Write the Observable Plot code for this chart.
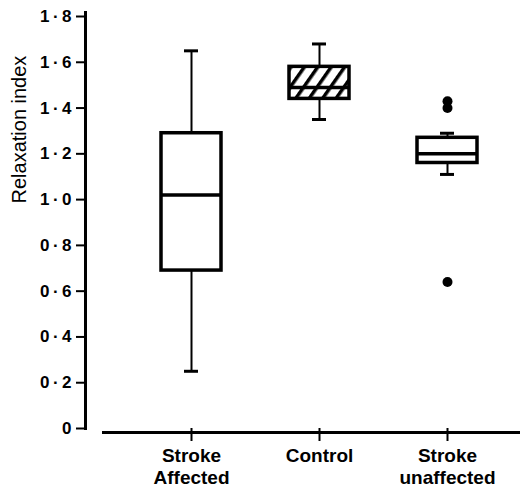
<!DOCTYPE html>
<html><head><meta charset="utf-8">
<script src="https://cdn.jsdelivr.net/npm/d3@7"></script>
<script src="https://cdn.jsdelivr.net/npm/@observablehq/plot@0.6"></script>
<style>
html,body{margin:0;padding:0;background:#fff;}
#chart svg{display:block;font-family:"Liberation Sans",Arial,sans-serif;}
</style>
</head><body><div id="chart"></div>
<script>
const groups = ["Stroke Affected", "Control", "Stroke unaffected"];
const groupLabels = ["Stroke\nAffected", "Control", "Stroke\nunaffected"];
const whiskerLow = [0.25, 1.35, 1.11];
const q1 = [0.69, 1.44, 1.16];
const median = [1.02, 1.49, 1.20];
const q3 = [1.29, 1.58, 1.27];
const whiskerHigh = [1.65, 1.68, 1.29];
const hatched = [false, true, false];
const outlierGroup = ["Stroke unaffected", "Stroke unaffected", "Stroke unaffected"];
const outlierValue = [1.43, 1.40, 0.64];
const yTicks = [0, 0.2, 0.4, 0.6, 0.8, 1.0, 1.2, 1.4, 1.6, 1.8];
const yTitle = "Relaxation index";

const rows = groups.map((g, i) => ({group: g, lo: whiskerLow[i], q1: q1[i], med: median[i], q3: q3[i], hi: whiskerHigh[i], hatched: hatched[i]}));
const outliers = outlierGroup.map((g, i) => ({group: g, value: outlierValue[i]}));
const labelOf = new Map(groups.map((g, i) => [g, groupLabels[i]]));
const fmt = d => d === 0 ? "0" : d.toFixed(1).replace(".", "\u2009·\u2009");

const boxInset = 34, capInset = 57;
const chart = Plot.plot({
  width: 520, height: 488,
  marginLeft: 85, marginRight: 0, marginTop: 12, marginBottom: 60,
  x: {type: "band", domain: groups, range: [126, 511], padding: 0},
  y: {domain: [0, 1.8], range: [428, 16]},
  marks: [
    Plot.frame({anchor: "left", strokeWidth: 3}),
    Plot.ruleY([0], {dy: 4, insetLeft: 17, strokeWidth: 3}),
    Plot.axisY(yTicks, {tickSize: 9, tickPadding: 5, tickFormat: fmt, fontSize: 17, fontWeight: "bold", strokeWidth: 2, label: null}),
    Plot.text([yTitle], {frameAnchor: "left", rotate: -90, dx: -66, dy: -17, fontSize: 20, fill: "black"}),
    Plot.axisX({tickSize: 13, tickPadding: 4, tickFormat: d => labelOf.get(d), fontSize: 19, fontWeight: "bold", lineHeight: 1.2, strokeWidth: 2, label: null}),
    Plot.ruleX(rows, {x: "group", y1: "lo", y2: "q1", strokeWidth: 2}),
    Plot.ruleX(rows, {x: "group", y1: "q3", y2: "hi", strokeWidth: 2}),
    Plot.tickY(rows, {x: "group", y: "lo", strokeWidth: 3, insetLeft: capInset, insetRight: capInset}),
    Plot.tickY(rows, {x: "group", y: "hi", strokeWidth: 3, insetLeft: capInset, insetRight: capInset}),
    Plot.barY(rows.filter(d => !d.hatched), {x: "group", y1: "q1", y2: "q3", fill: "white", stroke: "black", strokeWidth: 3.5, insetLeft: boxInset, insetRight: boxInset}),
    Plot.barY(rows.filter(d => d.hatched), {x: "group", y1: "q1", y2: "q3", fill: "url(#hatch)", stroke: "black", strokeWidth: 3.5, insetLeft: boxInset, insetRight: boxInset}),
    Plot.tickY(rows, {x: "group", y: "med", strokeWidth: 3.5, insetLeft: boxInset, insetRight: boxInset}),
    Plot.dot(outliers, {x: "group", y: "value", r: 5, fill: "black"})
  ]
});

const svgSel = d3.select(chart);
const defs = svgSel.insert("defs", ":first-child");
const pat = defs.append("pattern").attr("id", "hatch").attr("patternUnits", "userSpaceOnUse")
  .attr("width", 11).attr("height", 11).attr("patternTransform", "rotate(35)");
pat.append("rect").attr("width", 11).attr("height", 11).attr("fill", "white");
pat.append("rect").attr("x", 0).attr("width", 3.5).attr("height", 11).attr("fill", "black");

document.getElementById("chart").appendChild(chart);
</script>
</body></html>
